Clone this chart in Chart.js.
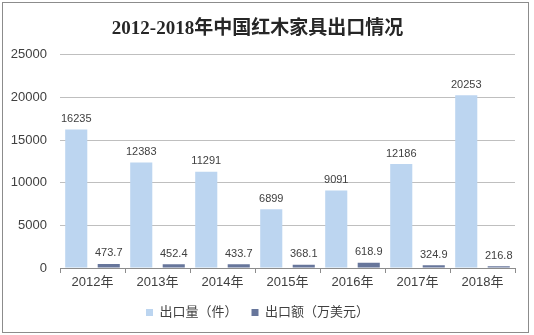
<!DOCTYPE html>
<html>
<head>
<meta charset="utf-8">
<script src="https://cdn.jsdelivr.net/npm/chart.js@4"></script>
<style>
  body { margin: 0; background: #fff; }
  #wrap { position: relative; width: 534px; height: 335px; }
  #frame { position: absolute; left: 2px; top: 2px; width: 525px; height: 329px; border: 1px solid #8c8c8c; pointer-events: none; }
</style>
</head>
<body>
<div id="wrap">
  <canvas id="chart" width="534" height="335"></canvas>
  <div id="frame"></div>
</div>
<script>
const years = ['2012年', '2013年', '2014年', '2015年', '2016年', '2017年', '2018年'];
const volume = [16235, 12383, 11291, 6899, 9091, 12186, 20253];
const amount = [473.7, 452.4, 433.7, 368.1, 618.9, 324.9, 216.8];
const yTicks = [0, 5000, 10000, 15000, 20000, 25000];

const sans = '"Liberation Sans", "Noto Sans CJK SC", sans-serif';

// value labels above each bar
const barLabels = {
    id: 'barLabels',
    afterDatasetsDraw(chart) {
        const ctx = chart.ctx;
        ctx.save();
        ctx.font = '11px ' + sans;
        ctx.fillStyle = '#404040';
        ctx.textAlign = 'center';
        ctx.textBaseline = 'bottom';
        chart.data.datasets.forEach((ds, i) => {
            chart.getDatasetMeta(i).data.forEach((bar, j) => {
                ctx.fillText(String(ds.data[j]), bar.x, bar.y - 5);
            });
        });
        ctx.restore();
    }
};

new Chart(document.getElementById('chart'), {
    type: 'bar',
    data: {
        labels: years,
        datasets: [
            {
                label: '出口量（件）',
                data: volume,
                backgroundColor: '#bcd5f0',
                categoryPercentage: 1,
                barPercentage: 0.68
            },
            {
                label: '出口额（万美元）',
                data: amount,
                backgroundColor: '#67769b',
                categoryPercentage: 1,
                barPercentage: 0.68
            }
        ]
    },
    options: {
        responsive: false,
        animation: false,
        layout: { padding: { left: 0, right: 19, top: 0, bottom: 6 } },
        plugins: {
            title: {
                display: true,
                text: '2012-2018年中国红木家具出口情况',
                color: '#262626',
                font: { family: '"Liberation Serif", "Noto Sans CJK SC", serif', size: 19, weight: 'bold' },
                padding: { top: 18, bottom: 14 }
            },
            legend: {
                position: 'bottom',
                labels: {
                    boxWidth: 7,
                    boxHeight: 7,
                    padding: 14,
                    color: '#404040',
                    font: { family: sans, size: 13 }
                }
            },
            tooltip: { enabled: false }
        },
        scales: {
            x: {
                grid: {
                    offset: true,
                    drawOnChartArea: false,
                    color: '#8c8c8c',
                    tickLength: 5
                },
                border: { color: '#8c8c8c' },
                ticks: { color: '#404040', font: { family: sans, size: 13 }, padding: 2 },
                afterFit(scale) { scale.height = 24; }
            },
            y: {
                min: 0,
                max: 25000,
                afterBuildTicks(scale) { scale.ticks = yTicks.map(v => ({ value: v })); },
                grid: { color: '#bfbfbf', drawTicks: false },
                border: { display: false },
                ticks: {
                    color: '#404040',
                    font: { family: sans, size: 13 },
                    padding: 13,
                    callback: v => String(v)
                },
                afterFit(scale) { scale.width = 60; }
            }
        }
    },
    plugins: [barLabels]
});
</script>
</body>
</html>
